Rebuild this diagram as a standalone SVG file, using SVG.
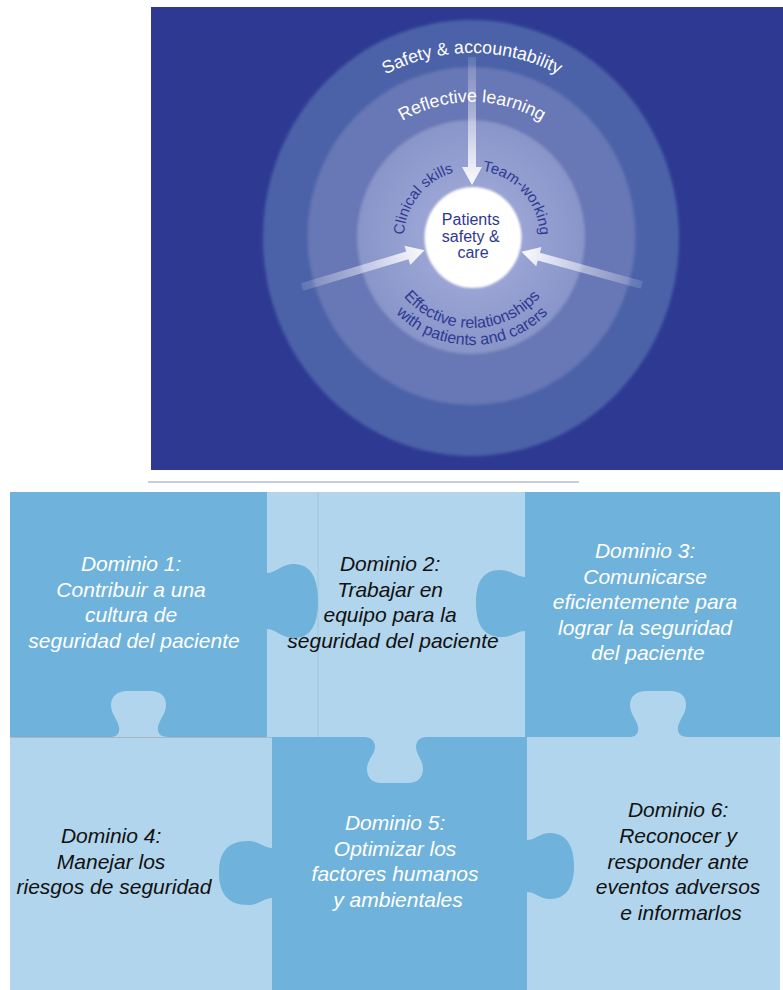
<svg xmlns="http://www.w3.org/2000/svg" width="783" height="990" viewBox="0 0 783 990">
<defs>
<style>
.sans{font-family:"Liberation Sans",Arial,Helvetica,sans-serif}
.rw{fill:#ffffff;font-size:17.8px}
.rb{fill:#2e3a92;font-size:15px}
.rb2{fill:#2e3a92;font-size:16px}
.dom{font-family:"Liberation Sans",Arial,Helvetica,sans-serif;font-style:italic;font-size:21px;text-anchor:middle}
.wt{fill:#ffffff}
.bk{fill:#111111}
.dark{fill:#6fb2db}
.light{fill:#b1d5ec}
.arrow{fill:url(#ag)}
</style>
<filter id="soft" x="-10%" y="-10%" width="120%" height="120%"><feGaussianBlur stdDeviation="1.6"/></filter>
<filter id="soft2" x="-10%" y="-10%" width="120%" height="120%"><feGaussianBlur stdDeviation="0.8"/></filter>
<radialGradient id="g3" cx="50%" cy="50%" r="50%">
<stop offset="0.45" stop-color="#9aa4d4"/>
<stop offset="1" stop-color="#8895c9"/>
</radialGradient>
<linearGradient id="ag" x1="0" y1="0" x2="1" y2="0">
<stop offset="0" stop-color="#ffffff" stop-opacity="0.12"/>
<stop offset="0.6" stop-color="#ffffff" stop-opacity="0.55"/>
<stop offset="1" stop-color="#ffffff" stop-opacity="0.95"/>
</linearGradient>
<path id="p1" d="M287,238 A185,185 0 0 1 657,238"/>
<path id="p2" d="M336,238 A136,136 0 0 1 608,238"/>
<path id="p3" d="M404,238 A68,68 0 0 1 540,238"/>
<path id="p4" d="M382,238 A90,90 0 0 0 562,238"/>
<path id="p5" d="M365,238 A107,107 0 0 0 579,238"/>
</defs>

<rect x="0" y="0" width="783" height="990" fill="#ffffff"/>

<!-- Top panel -->
<g id="panel">
<rect x="151" y="7" width="632" height="463" fill="#2e3a92"/>
<ellipse cx="471" cy="238" rx="208" ry="218" fill="#4b62a8" filter="url(#soft)"/>
<ellipse cx="471.5" cy="236" rx="164" ry="169" fill="#6877b5" filter="url(#soft)"/>
<ellipse cx="471" cy="237" rx="114" ry="117" fill="url(#g3)" filter="url(#soft)"/>
<ellipse cx="473" cy="237.5" rx="48.5" ry="50.5" fill="#ffffff" filter="url(#soft2)"/>
</g>

<g id="connectors">
<polygon class="arrow" points="0,-4 110,-4 110,-10 128,0 110,10 110,4 0,4" transform="translate(472,57) rotate(90)"/>
<polygon class="arrow" points="0,-4 110,-4 110,-10 128,0 110,10 110,4 0,4" transform="translate(302,287) rotate(-16.7)"/>
<polygon class="arrow" points="0,-4 107,-4 107,-10 125,0 107,10 107,4 0,4" transform="translate(642,285) rotate(-164.6)"/>
</g>

<g id="ring-safety">
<text class="sans rw"><textPath href="#p1" startOffset="50%" text-anchor="middle">Safety &amp; accountability</textPath></text>
</g>
<g id="ring-reflective">
<text class="sans rw"><textPath href="#p2" startOffset="50%" text-anchor="middle">Reflective learning</textPath></text>
</g>
<g id="ring-clinical">
<text class="sans rb"><textPath href="#p3" startOffset="3">Clinical skills</textPath></text>
</g>
<g id="ring-team">
<text class="sans rb"><textPath href="#p3" startOffset="117">Team-working</textPath></text>
</g>
<g id="ring-relationships">
<text class="sans rb2"><textPath href="#p4" startOffset="50%" text-anchor="middle">Effective relationships</textPath></text>
<text class="sans rb2"><textPath href="#p5" startOffset="50%" text-anchor="middle">with patients and carers</textPath></text>
</g>
<g id="center">
<text class="sans" fill="#2e3a92" font-size="16" text-anchor="middle">
<tspan x="473" y="225">Patients</tspan>
<tspan x="473" y="241.5">safety &amp;</tspan>
<tspan x="473" y="258">care</tspan>
</text>
</g>

<line x1="148" y1="482" x2="579" y2="482" stroke="#8d9ab8" stroke-width="1"/>

<!-- Puzzle: light pieces -->
<g id="domain2">
<rect class="light" x="267" y="492" width="258" height="245"/>
<rect class="light" x="362" y="736" width="65" height="50"/>
<line x1="318" y1="492" x2="318" y2="737" stroke="#a4c6df" stroke-width="1"/>
<text class="dom bk">
<tspan x="393" y="571">Dominio 2:</tspan>
<tspan x="393" y="596.5">Trabajar en</tspan>
<tspan x="393" y="622">equipo para la</tspan>
<tspan x="393" y="647.5">seguridad del paciente</tspan>
</text>
</g>
<g id="domain4">
<rect class="light" x="10" y="737" width="262" height="253"/>
<rect class="light" x="108" y="688" width="62" height="50"/>
<text class="dom bk">
<tspan x="114" y="843">Dominio 4:</tspan>
<tspan x="114" y="868.5">Manejar los</tspan>
<tspan x="114" y="894">riesgos de seguridad</tspan>
</text>
</g>
<g id="domain6">
<rect class="light" x="527" y="737" width="253" height="253"/>
<rect class="light" x="626" y="686" width="66" height="52"/>
<text class="dom bk">
<tspan x="681" y="817">Dominio 6:</tspan>
<tspan x="681" y="842.8">Reconocer y</tspan>
<tspan x="681" y="868.6">responder ante</tspan>
<tspan x="681" y="894.4">eventos adversos</tspan>
<tspan x="681" y="920.2">e informarlos</tspan>
</text>
</g>

<!-- Puzzle: dark pieces -->
<g id="domain1">
<path class="dark" d="M10,492 H267 V573 C275,573 281,565 292,564 C310,563 318,577 318,601 C318,626 310,639 292,638 C281,637 275,629 267,629 V737 H168 C160,737 157,733 158,727 C159,720 166,714 166,705 C166,696 160,691 151,691 H127 C118,691 111,696 111,705 C111,714 118,720 119,727 C120,733 117,737 110,737 H10 Z"/>
<line x1="10" y1="737.5" x2="318" y2="737.5" stroke="#a9b6c2" stroke-width="1"/>
<text class="dom wt">
<tspan x="134" y="571">Dominio 1:</tspan>
<tspan x="134" y="596.5">Contribuir a una</tspan>
<tspan x="134" y="622">cultura de</tspan>
<tspan x="134" y="647.5">seguridad del paciente</tspan>
</text>
</g>
<g id="domain3">
<path class="dark" d="M525,492 H780 V737 H688 C680,737 677,733 678,727 C679,720 686,714 686,705 C686,696 680,691 671,691 H646 C637,691 630,696 630,705 C630,714 637,720 638,727 C639,733 636,737 629,737 H525 V631 C517,631 511,638 500,637 C483,636 476,624 476,603 C476,582 483,570 500,570 C511,570 517,577 525,577 Z"/>
<text class="dom wt">
<tspan x="648" y="558">Dominio 3:</tspan>
<tspan x="648" y="583.5">Comunicarse</tspan>
<tspan x="648" y="609">eficientemente para</tspan>
<tspan x="648" y="634.5">lograr la seguridad</tspan>
<tspan x="648" y="660">del paciente</tspan>
</text>
</g>
<g id="domain5">
<path class="dark" d="M272,737 H364 C371,737 375,741 375,747 C375,754 367,760 367,769 C367,778 373,783 381,783 H408 C417,783 423,778 423,769 C423,760 416,754 416,747 C416,741 420,737 427,737 H527 V840 C535,840 540,833 550,833 C567,833 574,847 574,866 C574,886 567,899 550,899 C540,899 535,892 527,892 V990 H272 V898 C264,898 259,905 248,905 C227,905 219,892 219,873 C219,853 227,841 248,841 C259,841 264,848 272,848 Z"/>
<text class="dom wt">
<tspan x="398" y="830">Dominio 5:</tspan>
<tspan x="398" y="855.5">Optimizar los</tspan>
<tspan x="398" y="881">factores humanos</tspan>
<tspan x="398" y="906.5">y ambientales</tspan>
</text>
</g>
</svg>
